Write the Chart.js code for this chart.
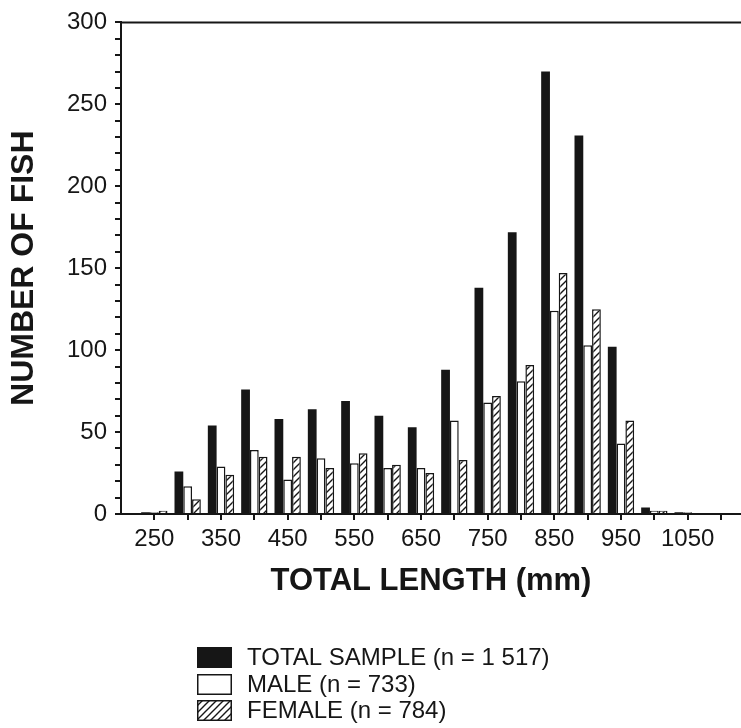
<!DOCTYPE html>
<html>
<head>
<meta charset="utf-8">
<script src="https://cdn.jsdelivr.net/npm/chart.js@4.4.1/dist/chart.umd.min.js"></script>
<style>
  html, body { margin: 0; padding: 0; background: #fff; }
  canvas { display: block; }
</style>
</head>
<body>
<canvas id="fishChart" width="741" height="728"></canvas>
<script>
// length classes (mm), bar groups centred on each
const lengthBins = [250, 300, 350, 400, 450, 500, 550, 600, 650, 700, 750, 800, 850, 900, 950, 1000, 1050];
const totalSample = [1, 26, 54, 76, 58, 64, 69, 60, 53, 88, 138, 172, 270, 231, 102, 4, 1];
const maleCounts = [1, 17, 29, 39, 21, 34, 31, 28, 28, 57, 68, 81, 124, 103, 43, 2, 1];
const femaleCounts = [2, 9, 24, 35, 35, 28, 37, 30, 25, 33, 72, 91, 147, 125, 57, 2, 0];
const xLabelValues = [250, 350, 450, 550, 650, 750, 850, 950, 1050];
const yLabelValues = [0, 50, 100, 150, 200, 250, 300];
const seriesNames = ['TOTAL SAMPLE (n = 1 517)', 'MALE (n = 733)', 'FEMALE (n = 784)'];

const FONT = '"Liberation Sans", Arial, Helvetica, sans-serif';
const INK = '#161616';

// diagonal hatch for the female bars
function makeHatch() {
    const c = document.createElement('canvas');
    c.width = 7;
    c.height = 7;
    const g = c.getContext('2d');
    g.fillStyle = '#fff';
    g.fillRect(0, 0, 7, 7);
    g.strokeStyle = INK;
    g.lineWidth = 1.4;
    g.beginPath();
    g.moveTo(-1, 8); g.lineTo(8, -1);
    g.moveTo(-4, 4); g.lineTo(4, -4);
    g.moveTo(3, 11); g.lineTo(11, 3);
    g.stroke();
    return g.createPattern(c, 'repeat');
}
const hatch = makeHatch();

function toPoints(values) {
    return lengthBins.map((x, i) => ({ x: x, y: values[i] }));
}

// legend under the axis title, drawn from the datasets
const stackedLegend = {
    id: 'stackedLegend',
    afterDraw(chart) {
        const ctx = chart.ctx;
        const rows = [647, 674, 700];
        ctx.save();
        chart.data.datasets.forEach((ds, i) => {
            const y = rows[i];
            ctx.fillStyle = ds.backgroundColor;
            ctx.fillRect(197, y, 35, 21);
            ctx.lineWidth = 1.5;
            ctx.strokeStyle = INK;
            ctx.strokeRect(197.75, y + 0.75, 33.5, 19.5);
            ctx.fillStyle = INK;
            ctx.font = '24px ' + FONT;
            ctx.textBaseline = 'middle';
            ctx.textAlign = 'left';
            ctx.fillText(ds.label, 247, y + 11);
        });
        // top frame line
        const a = chart.chartArea;
        ctx.strokeStyle = INK;
        ctx.lineWidth = 2;
        ctx.beginPath();
        ctx.moveTo(a.left, a.top);
        ctx.lineTo(chart.width, a.top);
        ctx.stroke();
        ctx.restore();
    }
};

const ctx = document.getElementById('fishChart').getContext('2d');
new Chart(ctx, {
    type: 'bar',
    data: {
        datasets: [
            {
                label: seriesNames[0],
                data: toPoints(totalSample),
                backgroundColor: INK,
                borderWidth: 0
            },
            {
                label: seriesNames[1],
                data: toPoints(maleCounts),
                backgroundColor: '#ffffff',
                borderColor: INK,
                borderWidth: 1.5
            },
            {
                label: seriesNames[2],
                data: toPoints(femaleCounts),
                backgroundColor: hatch,
                borderColor: INK,
                borderWidth: 1.5
            }
        ]
    },
    options: {
        responsive: false,
        animation: false,
        categoryPercentage: 0.79,
        barPercentage: 1.0,
        layout: { padding: { top: 20, right: 0, bottom: 118, left: 0 } },
        plugins: {
            legend: { display: false },
            tooltip: { enabled: false }
        },
        scales: {
            x: {
                type: 'linear',
                offset: false,
                min: 200,
                max: 1130,
                afterFit: (scale) => { scale.height = 96; },
                border: { display: true, color: INK, width: 2 },
                grid: {
                    offset: false,
                    drawOnChartArea: false,
                    drawTicks: true,
                    tickLength: 6,
                    lineWidth: 2,
                    color: (c) => (c.tick && c.tick.value === 200 ? 'rgba(0,0,0,0)' : INK)
                },
                ticks: {
                    stepSize: 50,
                    includeBounds: false,
                    autoSkip: false,
                    maxRotation: 0,
                    padding: 5,
                    color: INK,
                    font: { family: FONT, size: 24 },
                    callback: (v) => (xLabelValues.includes(v) ? String(v) : '')
                },
                title: {
                    display: true,
                    text: 'TOTAL LENGTH (mm)',
                    color: INK,
                    font: { family: FONT, size: 31, weight: 'bold' },
                    padding: { top: 0, bottom: 10 }
                }
            },
            y: {
                min: 0,
                max: 300,
                afterFit: (scale) => { scale.width = 121; },
                border: { display: true, color: INK, width: 2 },
                grid: {
                    drawOnChartArea: false,
                    drawTicks: true,
                    tickLength: 6,
                    lineWidth: 2,
                    color: INK
                },
                ticks: {
                    stepSize: 10,
                    autoSkip: false,
                    padding: 8,
                    color: INK,
                    font: { family: FONT, size: 24 },
                    callback: (v) => (yLabelValues.includes(v) ? String(v) : '')
                },
                title: {
                    display: true,
                    text: 'NUMBER OF FISH',
                    color: INK,
                    font: { family: FONT, size: 32, weight: 'bold' },
                    padding: { top: 5, bottom: 0 }
                }
            }
        }
    },
    plugins: [stackedLegend]
});
</script>
</body>
</html>
